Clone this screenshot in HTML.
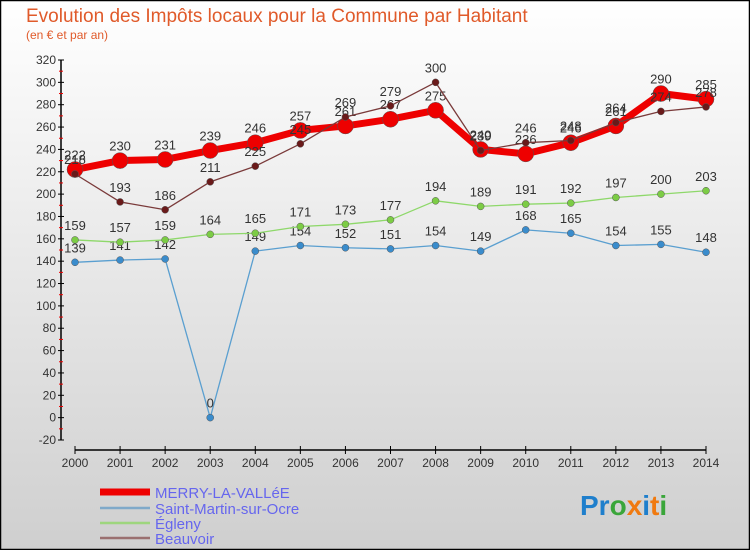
<!DOCTYPE html>
<html><head><meta charset="utf-8"><style>
body{margin:0}
#c{width:750px;height:550px;position:relative;overflow:hidden;font-family:"Liberation Sans",sans-serif}
</style></head><body>
<div id="c">
<svg id="s" width="750" height="550" xmlns="http://www.w3.org/2000/svg">
<defs><linearGradient id="bg" x1="0" y1="0" x2="0" y2="1"><stop offset="0" stop-color="#ffffff"/><stop offset="1" stop-color="#cfcfcf"/></linearGradient></defs>
<rect x="0.5" y="0.5" width="749" height="549" fill="url(#bg)" stroke="#000" stroke-width="1.5"/>
<text x="26" y="22" font-size="19" fill="#e05a2a">Evolution des Impôts locaux pour la Commune par Habitant</text>
<text x="26" y="39" font-size="12" fill="#e05a2a">(en € et par an)</text>
<g id="g"></g>
<g>
<line x1="100" y1="492" x2="150" y2="492" stroke="#e00" stroke-width="7"/>
<text x="155" y="498" font-size="15" fill="#6666ee">MERRY-LA-VALLéE</text>
<line x1="100" y1="508" x2="150" y2="508" stroke="#7fa9c9" stroke-width="2.5"/>
<text x="155" y="514" font-size="15" fill="#6666ee">Saint-Martin-sur-Ocre</text>
<line x1="100" y1="523" x2="150" y2="523" stroke="#9ed67e" stroke-width="2.5"/>
<text x="155" y="529" font-size="15" fill="#6666ee">Égleny</text>
<line x1="100" y1="538" x2="150" y2="538" stroke="#9a7070" stroke-width="2.5"/>
<text x="155" y="544" font-size="15" fill="#6666ee">Beauvoir</text>
</g>
<text x="580" y="515" font-size="28" font-weight="bold"><tspan fill="#1f7fcc">Pr</tspan><tspan fill="#3aa63a">o</tspan><tspan fill="#f07a10">x</tspan><tspan fill="#1f7fcc">i</tspan><tspan fill="#f07a10">t</tspan><tspan fill="#3aa63a">i</tspan></text>
</svg>
</div>
<script>
const years=[2000,2001,2002,2003,2004,2005,2006,2007,2008,2009,2010,2011,2012,2013,2014];
const yTicks=[-20,0,20,40,60,80,100,120,140,160,180,200,220,240,260,280,300,320];
const merry=[222,230,231,239,246,257,261,267,275,240,236,246,261,290,285];
const saintMartin=[139,141,142,0,149,154,152,151,154,149,168,165,154,155,148];
const egleny=[159,157,159,164,165,171,173,177,194,189,191,192,197,200,203];
const beauvoir=[218,193,186,211,225,245,269,279,300,239,246,248,264,274,278];
const NS="http://www.w3.org/2000/svg";
const g=document.getElementById('g');
const X=i=>75+i*(631/14);
const Y=v=>60+(320-v)*(380/340);
function mk(t,a,p){const e=document.createElementNS(NS,t);for(const k in a)e.setAttribute(k,a[k]);(p||g).appendChild(e);return e;}
let e=mk('line',{x1:61,y1:60,x2:61,y2:440,stroke:'#000','stroke-width':1.5});


e=mk('line',{x1:75,y1:450,x2:706,y2:450,stroke:'#000','stroke-width':1.5});


yTicks.forEach(v=>{
 mk('line',{x1:58,y1:Y(v),x2:64,y2:Y(v),stroke:'#000'});
 if(v<320) mk('line',{x1:59,y1:Y(v+10),x2:63,y2:Y(v+10),stroke:'#e00'});
 const t=mk('text',{x:56,y:Y(v)+4,'font-size':12,fill:'#333','text-anchor':'end'});
 t.textContent=v;
 
 
});
years.forEach((y,i)=>{
 mk('line',{x1:X(i),y1:446,x2:X(i),y2:454,stroke:'#000'});
 const t=mk('text',{x:X(i),y:467,'font-size':12,fill:'#333','text-anchor':'middle'});
 t.textContent=y;
 
 
});
function series(d,name,color,w,r,dot,labels){
 const pts=d.map((v,i)=>X(i)+','+Y(v)).join(' ');
 const l=mk('polyline',{points:pts,fill:'none',stroke:color,'stroke-width':w,'stroke-linejoin':'round'});
 
 
 d.forEach((v,i)=>{
  const c=mk('circle',{cx:X(i),cy:Y(v),r:r,fill:dot,stroke:'#555','stroke-width':0.5});
  
  
  if(labels){const t=mk('text',{x:X(i),y:Y(v)-10,'font-size':13,fill:'#333','text-anchor':'middle'});t.textContent=v;
  
  }
 });
}
series(saintMartin,'saint-martin','#5a9fd0',1.3,3.5,'#3a8ccc',true);
series(egleny,'egleny','#8ed86a',1.3,3.5,'#7ccc45',true);
series(merry,'merry','#ee0000',7,8,'#ee0000',true);
series(beauvoir,'beauvoir','#7a3a3a',1.3,3.5,'#6a1a1a',true);
</script>
</body></html>
